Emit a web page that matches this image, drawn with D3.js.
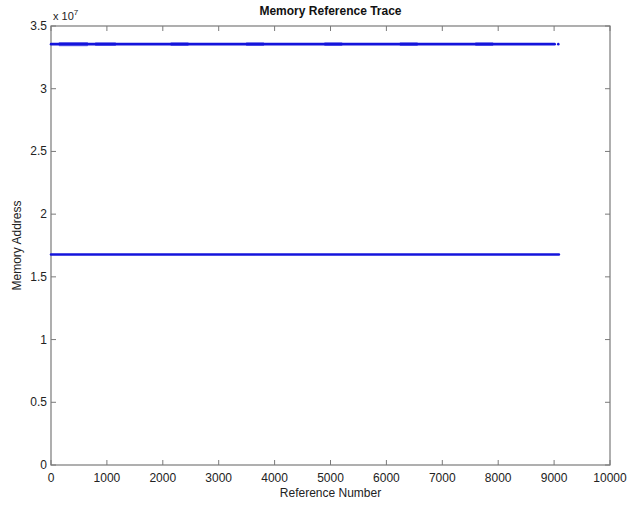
<!DOCTYPE html>
<html>
<head>
<meta charset="utf-8">
<script src="https://cdn.jsdelivr.net/npm/d3@7"></script>
<style>
  html, body { margin: 0; padding: 0; background: #fff; }
  svg { display: block; font-family: "Liberation Sans", Arial, sans-serif; }
</style>
</head>
<body>
<svg id="chart" width="630" height="506"></svg>
<script>
// Address levels touched by the trace (bytes)
const heapAddress = 16777216;   // 2^24
const stackAddress = 33554432;  // 2^25

// Runs of references: [first reference, last reference, address]
const heapRuns = [[1, 9085, heapAddress]];
const stackRuns = [[1, 9010, stackAddress]];
// Bursts where the upper stream wanders a little around its base address
const stackBursts = [
  [150, 650, 33660000], [150, 650, 33450000],
  [800, 1150, 33650000], [800, 1150, 33460000],
  [2150, 2450, 33650000], [2150, 2450, 33460000],
  [3500, 3800, 33650000], [3500, 3800, 33460000],
  [4900, 5200, 33650000], [4900, 5200, 33460000],
  [6250, 6550, 33650000], [6250, 6550, 33460000],
  [7600, 7900, 33650000], [7600, 7900, 33460000]
];
// Stray single references past the end of the upper run
const strayRefs = [[9075, stackAddress]];

const xTicks = [0, 1000, 2000, 3000, 4000, 5000, 6000, 7000, 8000, 9000, 10000];
const yTicks = [0, 0.5e7, 1e7, 1.5e7, 2e7, 2.5e7, 3e7, 3.5e7];

const svg = d3.select("#chart");
const plotL = 51, plotR = 610, plotT = 26, plotB = 465;
const axisColor = "#7a7a7a";
const traceColor = "#1414dc";

const x = d3.scaleLinear().domain([0, 10000]).range([plotL, plotR]);
const y = d3.scaleLinear().domain([0, 3.5e7]).range([plotB, plotT]);

// Plot box
svg.append("rect")
  .attr("x", plotL).attr("y", plotT)
  .attr("width", plotR - plotL).attr("height", plotB - plotT)
  .attr("fill", "#fff").attr("stroke", axisColor).attr("stroke-width", 1.2);

// Inward ticks on all four sides
const tickLen = 5;
const tickG = svg.append("g").attr("stroke", axisColor).attr("stroke-width", 1);
xTicks.forEach(t => {
  tickG.append("line").attr("x1", x(t)).attr("x2", x(t)).attr("y1", plotB).attr("y2", plotB - tickLen);
  tickG.append("line").attr("x1", x(t)).attr("x2", x(t)).attr("y1", plotT).attr("y2", plotT + tickLen);
});
yTicks.forEach(t => {
  tickG.append("line").attr("x1", plotL).attr("x2", plotL + tickLen).attr("y1", y(t)).attr("y2", y(t));
  tickG.append("line").attr("x1", plotR).attr("x2", plotR - tickLen).attr("y1", y(t)).attr("y2", y(t));
});

// Tick labels
svg.append("g").selectAll("text").data(xTicks).join("text")
  .attr("x", d => x(d)).attr("y", plotB + 17)
  .attr("text-anchor", "middle").attr("font-size", 12).attr("fill", "#222")
  .text(d => d);
const yFmt = d => { const v = d / 1e7; return v === 0 ? "0" : String(v); };
svg.append("g").selectAll("text").data(yTicks).join("text")
  .attr("x", plotL - 4).attr("y", d => y(d) + 4)
  .attr("text-anchor", "end").attr("font-size", 12).attr("fill", "#222")
  .text(yFmt);

// Exponent marker
const exp = svg.append("text").attr("x", plotL + 2).attr("y", plotT - 6)
  .attr("font-size", 11).attr("fill", "#222");
exp.append("tspan").text("x 10");
exp.append("tspan").attr("dy", -5).attr("font-size", 8).text("7");

// Title and axis labels
svg.append("text").attr("x", (plotL + plotR) / 2).attr("y", 15)
  .attr("text-anchor", "middle").attr("font-size", 12).attr("font-weight", "bold")
  .attr("fill", "#111").text("Memory Reference Trace");
svg.append("text").attr("x", (plotL + plotR) / 2).attr("y", plotB + 32)
  .attr("text-anchor", "middle").attr("font-size", 12).attr("fill", "#222")
  .text("Reference Number");
svg.append("text")
  .attr("transform", `translate(21,${(plotT + plotB) / 2}) rotate(-90)`)
  .attr("text-anchor", "middle").attr("font-size", 12).attr("fill", "#222")
  .text("Memory Address");

// Trace runs
const runG = svg.append("g").attr("stroke", traceColor).attr("stroke-linecap", "round");
const drawRuns = (runs, w, op) => runs.forEach(([a, b, addr]) => {
  runG.append("line")
    .attr("x1", x(a)).attr("x2", x(b))
    .attr("y1", y(addr)).attr("y2", y(addr))
    .attr("stroke-width", w).attr("stroke-opacity", op);
});
drawRuns(stackBursts, 1.4, 0.55);
drawRuns(heapRuns, 2.6, 1);
drawRuns(stackRuns, 2.6, 1);

svg.append("g").selectAll("circle").data(strayRefs).join("circle")
  .attr("cx", d => x(d[0])).attr("cy", d => y(d[1]))
  .attr("r", 1.3).attr("fill", traceColor);
</script>
</body>
</html>
